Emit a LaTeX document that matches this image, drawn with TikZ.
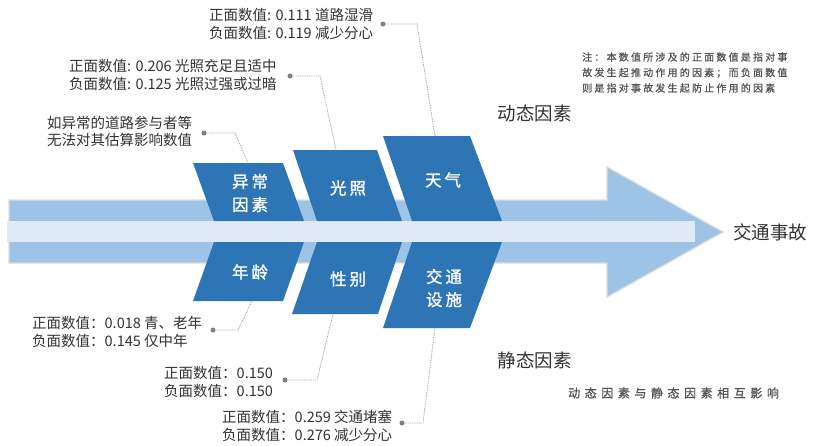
\documentclass[tikz,border=0pt]{standalone}
\usepackage{fontspec}
\setmainfont{Noto Sans CJK SC}
\newfontfamily\boxfont[LetterSpace=18,FakeBold=1.2]{Noto Sans CJK SC}
\newfontfamily\notefont[LetterSpace=22,FakeBold=0.8]{Noto Sans CJK SC}
\newfontfamily\capfont[LetterSpace=38,FakeBold=0.8]{Noto Sans CJK SC}
\definecolor{bandA}{HTML}{9DC3E6}
\definecolor{bandB}{HTML}{DEEBF7}
\definecolor{boxblue}{HTML}{2E75B6}
\definecolor{txt}{HTML}{333333}
\definecolor{notegray}{HTML}{555555}
\definecolor{dotgray}{HTML}{808080}
\definecolor{linegray}{HTML}{9A9A9A}
\definecolor{shadow}{HTML}{DCDCDC}
\tikzset{
  factorbox/.style={fill=boxblue, draw=none},
  boxlabel/.style={text=white, font=\boxfont\fontsize{16.5}{23}\selectfont, align=center, inner sep=0pt},
  anno/.style={text=txt, font=\fontsize{14.5}{17.5}\selectfont, align=left, inner sep=0pt, anchor=west},
  title/.style={text=txt, font=\fontsize{18.5}{22}\selectfont, inner sep=0pt},
  dotn/.style={circle, fill=dotgray, inner sep=0pt, minimum size=5pt},
  conn/.style={draw=linegray, densely dotted, line width=0.8pt}
}
\begin{document}
\begin{tikzpicture}[x=1pt,y=-1pt]
\useasboundingbox (0,0) rectangle (821,445);
\fill[white] (0,0) rectangle (821,445);
% main arrow
\path[fill=bandA, draw=shadow, line width=1.2pt, line join=miter]
  (9,200) -- (607,200) -- (607,167) -- (723,232) -- (607,297) -- (607,263) -- (9,263) -- cycle;
\fill[bandB] (7,221) rectangle (695,242);
% upper boxes
\path[factorbox] (214,221) -- (304,221) -- (283,163) -- (193,163) -- cycle;
\path[factorbox] (317,221) -- (402,221) -- (377,150) -- (293,150) -- cycle;
\path[factorbox] (412,221) -- (502,221) -- (470,136) -- (383,136) -- cycle;
% lower boxes
\path[factorbox] (214,242) -- (304,242) -- (283,301) -- (193,301) -- cycle;
\path[factorbox] (317,242) -- (402,242) -- (378,314) -- (292,314) -- cycle;
\path[factorbox] (412,242) -- (502,242) -- (470,328) -- (383,328) -- cycle;
% box labels
\node[boxlabel] (l1) at (250,193) {异常\\因素};
\node[boxlabel] (l2) at (348,188) {光照};
\node[boxlabel] (l3) at (443,180) {天气};
\node[boxlabel] (l4) at (250,272) {年龄};
\node[boxlabel] (l5) at (348,279) {性别};
\node[boxlabel] (l6) at (444,288) {交通\\设施};
% connector end points on boxes
\coordinate (e1) at (435,136);
\coordinate (e2) at (336,150);
\coordinate (e3) at (248,163);
\coordinate (e4) at (252,301);
\coordinate (e5) at (333,314);
\coordinate (e6) at (435,328);
\coordinate (k1) at (417,24);
\coordinate (k2) at (320,76);
\coordinate (k3) at (235,133);
\coordinate (k4) at (238,330);
\coordinate (k5) at (317,380);
\coordinate (k6) at (423,423);
% annotations
\node[anno] (a1) at (209,24) {正面数值: 0.111 道路湿滑\\负面数值: 0.119 减少分心};
\node[anno] (a2) at (69,75) {正面数值: 0.206 光照充足且适中\\负面数值: 0.125 光照过强或过暗};
\node[anno] (a3) at (47,131.5) {如异常的道路参与者等\\无法对其估算影响数值};
\node[anno] (a4) at (32,332) {正面数值：0.018 青、老年\\负面数值：0.145 仅中年};
\node[anno] (a5) at (164,382) {正面数值：0.150\\负面数值：0.150};
\node[anno] (a6) at (222,426) {正面数值：0.259 交通堵塞\\负面数值：0.276 减少分心};
% dots
\node[dotn] (d1) at (383,24) {};
\node[dotn] (d2) at (290,76) {};
\node[dotn] (d3) at (204,133) {};
\node[dotn] (d4) at (213,330) {};
\node[dotn] (d5) at (285,380) {};
\node[dotn] (d6) at (402,423) {};
% connectors
\draw[conn] (d1) -- (k1) -- (e1);
\draw[conn] (d2) -- (k2) -- (e2);
\draw[conn] (d3) -- (k3) -- (e3);
\draw[conn] (d4) -- (k4) -- (e4);
\draw[conn] (d5) -- (k5) -- (e5);
\draw[conn] (d6) -- (k6) -- (e6);
% titles
\node[title] (dyn) at (534.5,113) {动态因素};
\node[title] (sta) at (534.5,360) {静态因素};
\node[title, anchor=west] (acc) at (733,232) {交通事故};
\node[text=notegray, font=\notefont\fontsize{10}{15.5}\selectfont, align=left, inner sep=0pt, anchor=west] (note) at (582,72.5)
  {注：本数值所涉及的正面数值是指对事\\故发生起推动作用的因素；而负面数值\\则是指对事故发生起防止作用的因素};
\node[text=notegray, font=\capfont\fontsize{12}{14}\selectfont, inner sep=0pt, anchor=west] (cap) at (568,393)
  {动态因素与静态因素相互影响};
\end{tikzpicture}
\end{document}
